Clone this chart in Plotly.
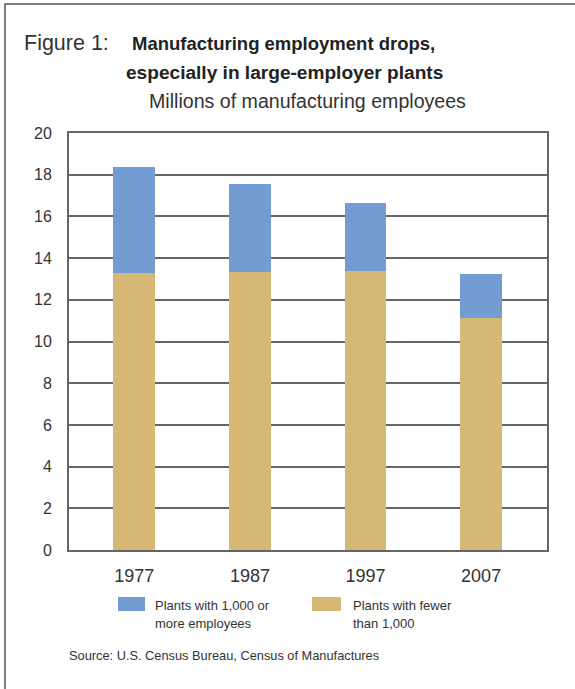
import plotly.graph_objects as go

# Census years and employment (millions) by plant size
years = ["1977", "1987", "1997", "2007"]
small_plants = [13.3, 13.35, 13.4, 11.15]   # plants with fewer than 1,000 employees
large_plants = [5.05, 4.2, 3.25, 2.1]       # plants with 1,000 or more employees
y_ticks = [0, 2, 4, 6, 8, 10, 12, 14, 16, 18, 20]

BLUE = "#739CD2"
TAN = "#D6B976"
FONT = "Liberation Sans, Arial, sans-serif"
TEXT = "#333333"

W, H = 575, 689
L, R, T, B = 69, 28, 133, 139
PW, PH = W - L - R, H - T - B


def px(x):
    return (x - L) / PW


def py(y):
    return (H - B - y) / PH


fig = go.Figure()
fig.add_trace(go.Bar(x=years, y=small_plants, marker_color=TAN, width=0.363,
                     marker_line_width=0, name="Plants with fewer than 1,000",
                     showlegend=False))
fig.add_trace(go.Bar(x=years, y=large_plants, marker_color=BLUE, width=0.363,
                     marker_line_width=0, name="Plants with 1,000 or more employees",
                     showlegend=False))

annotations = [
    dict(text="Figure 1:", x=px(22), y=py(43), xanchor="left", yanchor="middle",
         font=dict(size=21.5, color=TEXT)),
    dict(text="<b>Manufacturing employment drops,</b>", x=px(130), y=py(43),
         xanchor="left", yanchor="middle", font=dict(size=18.5, color="#222222")),
    dict(text="<b>especially in large-employer plants</b>", x=px(124), y=py(72),
         xanchor="left", yanchor="middle", font=dict(size=19.1, color="#222222")),
    dict(text="Millions of manufacturing employees", x=px(307), y=py(101),
         xanchor="center", yanchor="middle", font=dict(size=19.6, color=TEXT)),
    # legend labels
    dict(text="Plants with 1,000 or", x=px(153), y=py(605), xanchor="left",
         yanchor="middle", font=dict(size=13, color=TEXT)),
    dict(text="more employees", x=px(153), y=py(623), xanchor="left",
         yanchor="middle", font=dict(size=13, color=TEXT)),
    dict(text="Plants with fewer", x=px(351), y=py(605), xanchor="left",
         yanchor="middle", font=dict(size=13, color=TEXT)),
    dict(text="than 1,000", x=px(351), y=py(623), xanchor="left",
         yanchor="middle", font=dict(size=13, color=TEXT)),
    dict(text="Source: U.S. Census Bureau, Census of Manufactures", x=px(67),
         y=py(655), xanchor="left", yanchor="middle",
         font=dict(size=12.8, color=TEXT)),
]
for a in annotations:
    a.update(xref="paper", yref="paper", showarrow=False)

shapes = [
    # outer frame
    dict(type="rect", xref="paper", yref="paper", x0=px(5), y0=py(4),
         x1=px(600), y1=py(720), line=dict(color="#555555", width=1.5),
         layer="below"),
    # legend swatches
    dict(type="rect", xref="paper", yref="paper", x0=px(118), x1=px(145),
         y0=py(597), y1=py(611), fillcolor=BLUE, line_width=0),
    dict(type="rect", xref="paper", yref="paper", x0=px(312), x1=px(341),
         y0=py(597), y1=py(611), fillcolor=TAN, line_width=0),
]

fig.update_layout(
    width=W, height=H,
    margin=dict(l=L, r=R, t=T, b=B),
    barmode="stack",
    bargap=0,
    plot_bgcolor="white", paper_bgcolor="white",
    font=dict(family=FONT, color=TEXT),
    annotations=annotations,
    shapes=shapes,
    showlegend=False,
)
fig.update_xaxes(
    type="category", range=[-0.565, 3.57],
    showgrid=False, showline=True, linecolor="#666666", linewidth=2,
    mirror=True, ticks="", tickfont=dict(size=18, color=TEXT),
    ticklabelstandoff=8,
)
fig.update_yaxes(
    range=[0, 20], tickvals=y_ticks,
    showgrid=True, gridcolor="#666666", gridwidth=1.5,
    showline=True, linecolor="#666666", linewidth=2, mirror=True,
    zeroline=False, ticks="", tickfont=dict(size=16, color=TEXT),
    ticklabelstandoff=12,
)

fig.write_html("out.html")
